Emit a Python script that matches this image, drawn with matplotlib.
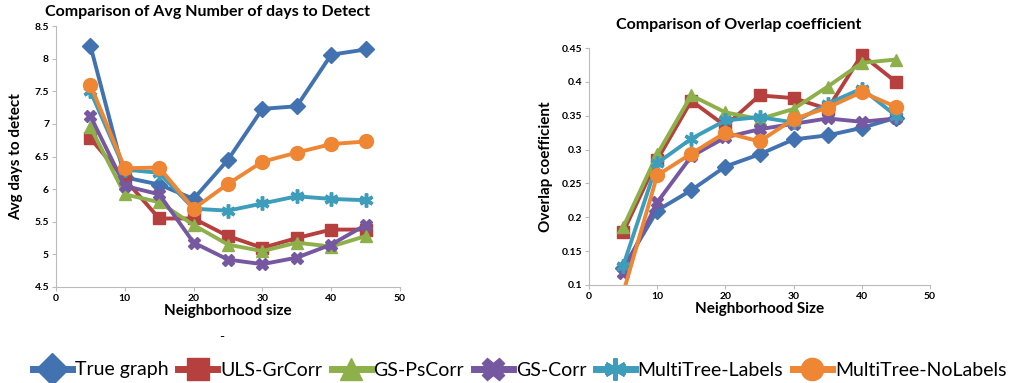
import matplotlib.pyplot as plt
from matplotlib.lines import Line2D

plt.rcParams['font.family'] = ['Lato', 'DejaVu Sans']

sizes = [5, 10, 15, 20, 25, 30, 35, 40, 45]
series = ['True graph', 'ULS-GrCorr', 'GS-PsCorr', 'GS-Corr', 'MultiTree-Labels', 'MultiTree-NoLabels']

days = {
    'True graph':         [8.20, 6.18, 6.07, 5.85, 6.45, 7.23, 7.27, 8.06, 8.14],
    'ULS-GrCorr':         [6.78, 6.15, 5.55, 5.55, 5.28, 5.10, 5.25, 5.38, 5.38],
    'GS-PsCorr':          [6.95, 5.92, 5.80, 5.45, 5.15, 5.05, 5.18, 5.12, 5.28],
    'GS-Corr':            [7.12, 6.05, 5.92, 5.18, 4.92, 4.85, 4.95, 5.15, 5.45],
    'MultiTree-Labels':   [7.50, 6.30, 6.25, 5.70, 5.67, 5.78, 5.89, 5.85, 5.83],
    'MultiTree-NoLabels': [7.60, 6.32, 6.33, 5.70, 6.08, 6.42, 6.56, 6.69, 6.73],
}

overlap = {
    'True graph':         [0.125, 0.210, 0.240, 0.275, 0.293, 0.315, 0.321, 0.332, 0.347],
    'ULS-GrCorr':         [0.178, 0.285, 0.372, 0.335, 0.380, 0.376, 0.360, 0.440, 0.400],
    'GS-PsCorr':          [0.185, 0.293, 0.380, 0.355, 0.345, 0.360, 0.393, 0.428, 0.433],
    'GS-Corr':            [0.118, 0.222, 0.290, 0.318, 0.330, 0.338, 0.346, 0.341, 0.346],
    'MultiTree-Labels':   [0.128, 0.280, 0.316, 0.343, 0.348, 0.340, 0.368, 0.390, 0.350],
    'MultiTree-NoLabels': [0.088, 0.262, 0.294, 0.325, 0.312, 0.345, 0.362, 0.385, 0.363],
}

colors = ['#4272B0', '#B5403D', '#8DB04A', '#7558A0', '#3E9DBA', '#EE8634']
markers = ['D', 's', '^', 'X', (6, 2, 0), 'o']
msizes = [8, 9, 9, 9, 10, 10]

fig = plt.figure(figsize=(10.23, 3.83), dpi=100)
ax1 = fig.add_axes([56 / 1023, 1 - 287 / 383, 344 / 1023, 261 / 383])
ax2 = fig.add_axes([589 / 1023, 1 - 285 / 383, 341 / 1023, 237 / 383])


def style(ax):
    for s in ['top', 'right']:
        ax.spines[s].set_visible(False)
    for s in ['left', 'bottom']:
        ax.spines[s].set_color('#BBBBBB')
        ax.spines[s].set_linewidth(0.8)
    ax.tick_params(length=3, color='#BBBBBB', labelsize=7.5, pad=2)
    for lab in ax.get_xticklabels() + ax.get_yticklabels():
        lab.set_fontweight('bold')
    ax.set_xlim(0, 50)
    ax.set_xticks(range(0, 51, 10))


for name, c, m, ms in zip(series, colors, markers, msizes):
    mew = 2.5 if isinstance(m, tuple) else 1
    ax1.plot(sizes, days[name], color=c, lw=2.8, marker=m, ms=ms, mew=mew, mec=c)
    ax2.plot(sizes, overlap[name], color=c, lw=2.8, marker=m, ms=ms, mew=mew, mec=c)

ax1.set_ylim(4.5, 8.5)
ax1.set_yticks([4.5, 5, 5.5, 6, 6.5, 7, 7.5, 8, 8.5])
ax1.set_yticklabels(['4.5', '5', '5.5', '6', '6.5', '7', '7.5', '8', '8.5'])
style(ax1)
ax1.set_title('Comparison of Avg Number of days to Detect', fontsize=11.5, fontweight='bold',
              x=0.44, pad=7)
ax1.set_xlabel('Neighborhood size', fontsize=11, fontweight='bold', labelpad=1)
ax1.set_ylabel('Avg days to detect', fontsize=11, fontweight='bold', labelpad=8)

ax2.set_ylim(0.1, 0.45)
ax2.set_yticks([0.1, 0.15, 0.2, 0.25, 0.3, 0.35, 0.4, 0.45])
ax2.set_yticklabels(['0.1', '0.15', '0.2', '0.25', '0.3', '0.35', '0.4', '0.45'])
style(ax2)
ax2.set_title('Comparison of Overlap coefficient', fontsize=11.5, fontweight='bold',
              x=0.44, pad=14)
ax2.set_xlabel('Neighborhood Size', fontsize=11, fontweight='bold', labelpad=1)
ax2.set_ylabel('Overlap coefficient', fontsize=11, fontweight='bold', labelpad=6)

fig.text(222 / 1023, 1 - 337 / 383, '-', fontsize=10, ha='center', va='center')

handles = [Line2D([], [], color=c, lw=5, marker=m, ms=16, mew=3 if isinstance(m, tuple) else 1, mec=c)
           for c, m in zip(colors, markers)]
fig.legend(handles, series, loc='center', bbox_to_anchor=(0.508, 1 - 370 / 383), ncol=6,
           frameon=False, fontsize=14, handlelength=2.0, handletextpad=0.15, columnspacing=0.5,
           borderaxespad=0, borderpad=0)

fig.savefig('out.png', dpi=100)
